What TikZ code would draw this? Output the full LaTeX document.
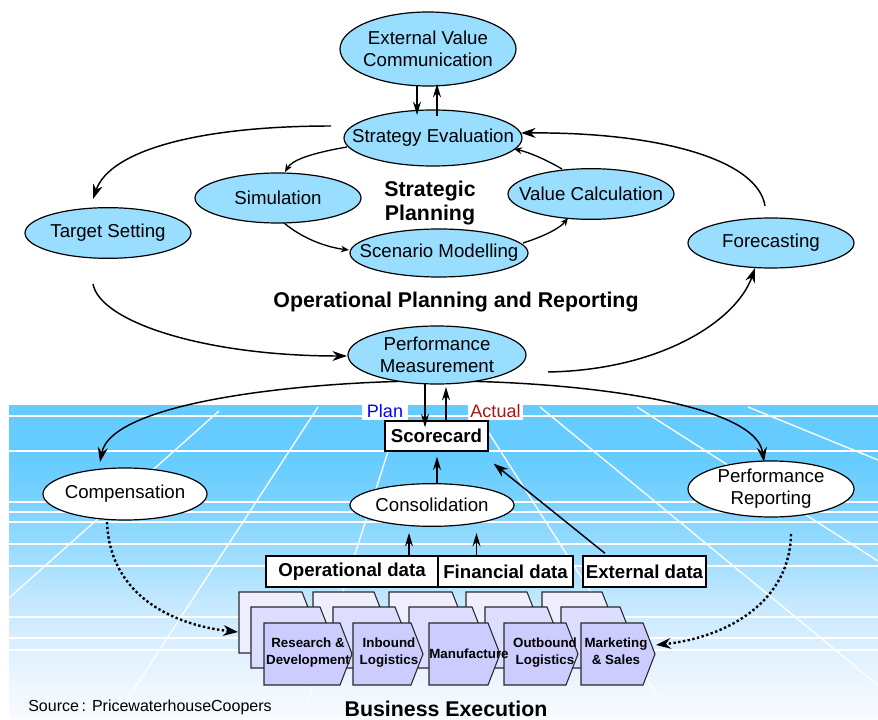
\documentclass[tikz,border=0pt]{standalone}
\usepackage{fontspec}
\setmainfont{Liberation Sans}
\usetikzlibrary{shapes.geometric,calc,arrows.meta}

% fills and inks
\definecolor{ovalblue}{RGB}{153,221,255}
\definecolor{planblue}{RGB}{0,0,255}
\definecolor{actualred}{RGB}{170,20,20}
\definecolor{chevback}{RGB}{238,238,255}
\definecolor{chevmid}{RGB}{221,221,255}
\definecolor{chevfront}{RGB}{204,204,255}
\definecolor{chevline}{RGB}{40,40,40}
% ground gradient, from bottom (g0) to top (g6)
\definecolor{g0}{RGB}{248,251,255}
\definecolor{g1}{RGB}{240,247,255}
\definecolor{g2}{RGB}{222,240,255}
\definecolor{g3}{RGB}{195,232,255}
\definecolor{g4}{RGB}{162,222,255}
\definecolor{g5}{RGB}{122,210,255}
\definecolor{g6}{RGB}{102,204,255}

\pgfdeclarelayer{ground}
\pgfdeclarelayer{links}
\pgfsetlayers{ground,links,main}

% one value-chain chevron: fill, left x, corner x, top y, bottom y
\newcommand{\valuechevron}[5]{%
  \filldraw[fill=#1, draw=chevline, line width=0.8pt, line join=miter]
    (#2,#4) -- (#3,#4) -- ({#3+12},{(#4+#5)/2}) -- (#3,#5) -- (#2,#5) -- cycle;}

\begin{document}
\begin{tikzpicture}[x=0.75pt, y=-0.75pt,
  font=\fontsize{14}{16.5}\selectfont,
  oval/.style={ellipse, draw=black, line width=0.9pt, fill=ovalblue, inner sep=0pt},
  whiteoval/.style={ellipse, draw=black, line width=0.9pt, fill=white, inner sep=0pt},
  lbl/.style={align=center, inner sep=0pt},
  databox/.style={draw=black, line width=1pt, fill=white, inner sep=0pt,
                  minimum height=23.25pt, font=\bfseries\fontsize{14}{16}\selectfont},
  tag/.style={fill=white, inner sep=0pt, minimum height=12.75pt, font=\fontsize{13.5}{15}\selectfont},
  heading/.style={anchor=base, inner sep=0pt, font=\bfseries\fontsize{16}{18}\selectfont},
  chevtext/.style={align=center, inner sep=0pt, font=\bfseries\fontsize{10}{12.8}\selectfont},
  flow/.style={line width=1.1pt, -{Stealth[length=11pt,width=7.5pt]}},
  smallflow/.style={line width=1pt, -{Stealth[length=6pt,width=5pt]}},
  vert/.style={line width=1pt, -{Stealth[length=10pt,width=6pt]}},
  dotflow/.style={line width=1.8pt, dash pattern=on 1.8pt off 1.8pt, -{Stealth[length=11pt,width=8pt]}},
  gridline/.style={white, line width=1pt}]

\useasboundingbox (0,0) rectangle (878,720);

% ---------- ground plane with perspective grid ----------
\begin{pgfonlayer}{ground}
  \fill[g6] (9,405) rectangle (878,460.5);
  \shade[top color=g6, bottom color=g5] (9,460) rectangle (878,500.5);
  \shade[top color=g5, bottom color=g4] (9,500) rectangle (878,560.5);
  \shade[top color=g4, bottom color=g3] (9,560) rectangle (878,600.5);
  \shade[top color=g3, bottom color=g2] (9,600) rectangle (878,650.5);
  \shade[top color=g2, bottom color=g1] (9,650) rectangle (878,690.5);
  \shade[top color=g1, bottom color=g0] (9,690) rectangle (878,718);
  \begin{scope}
    \clip (9,405) rectangle (878,718);
    \foreach \y in {416,451,502,512,522,544,566,617,638,650}
      \draw[gridline] (9,\y) -- (878,\y);
    \draw[gridline] (219,411) -- (9,598);
    \draw[gridline] (318,407) -- (132,692);
    \draw[gridline] (403,405) -- (308,700);
    \draw[gridline] (471,405) -- (660,700);
    \draw[gridline] (540,407) -- (878,685);
    \draw[gridline] (637,407) -- (878,561);
    \draw[gridline] (748,407) -- (878,460);
  \end{scope}
\end{pgfonlayer}

% ---------- strategic planning ----------
\node[oval, minimum width=132pt, minimum height=55.5pt] (ext) at (428,49) {};
\node[lbl] (ext-t) at (ext) {External Value\\Communication};
\node[oval, minimum width=133.5pt, minimum height=42pt] (strat) at (433,138) {};
\node[lbl] (strat-t) at (strat) {Strategy Evaluation};
\node[oval, minimum width=124.5pt, minimum height=37.5pt] (sim) at (278,198) {};
\node[lbl] (sim-t) at (sim) {Simulation};
\node[oval, minimum width=124.5pt, minimum height=38pt] (val) at (591,194) {};
\node[lbl] (val-t) at (val) {Value Calculation};
\node[oval, minimum width=133.5pt, minimum height=36pt] (scen) at (439,253) {};
\node[lbl] (scen-t) at (scen) {Scenario Modelling};
\node[heading, align=center] (sp) at (430,220.5) {Strategic\\Planning};

% ---------- operational planning and reporting ----------
\node[oval, minimum width=124.5pt, minimum height=38pt] (target) at (108,233) {};
\node[lbl] (target-t) at (target) {Target Setting};
\node[oval, minimum width=124.5pt, minimum height=37.5pt] (forecast) at (771,243) {};
\node[lbl] (forecast-t) at (forecast) {Forecasting};
\node[heading] (opr) at (456,307) {Operational Planning and Reporting};
\node[oval, minimum width=133.5pt, minimum height=43.5pt] (perfmeas) at (437,355) {};
\node[lbl] (perfmeas-t) at (perfmeas) {Performance\\Measurement};

% ---------- scorecard level ----------
\node[tag, minimum width=34.5pt, text=planblue] (plan) at (385,411.5) {Plan};
\node[tag, minimum width=41.25pt, text=actualred] (actual) at (495.5,411.5) {Actual};
\node[databox, minimum width=77.25pt, minimum height=22.5pt] (score) at (436.5,436) {Scorecard};
\node[whiteoval, minimum width=123pt, minimum height=39pt] (comp) at (125,494) {};
\node[lbl] (comp-t) at (comp) {Compensation};
\node[whiteoval, minimum width=123pt, minimum height=32pt] (consol) at (432,505) {};
\node[lbl] (consol-t) at (consol) {Consolidation};
\node[whiteoval, minimum width=124.5pt, minimum height=42pt] (rep) at (771,489) {};
\node[lbl] (rep-t) at (rep) {Performance\\Reporting};

% ---------- data sources ----------
\node[databox, minimum width=129pt] (opdata) at (352,571.5) {Operational data};
\node[databox, minimum width=101.25pt] (findata) at (505.5,571.5) {Financial data};
\node[databox, minimum width=92.25pt] (extdata) at (644.5,571.5) {External data};

% ---------- business execution: value chain ----------
\foreach \l/\c in {239/302,313/374,389/452,466/527,542/602}
  {\valuechevron{chevback}{\l}{\c}{592}{653}}
\foreach \l/\c in {251/320,333/395,409/472,485/547,561/620}
  {\valuechevron{chevmid}{\l}{\c}{607}{668}}
\foreach \l/\c in {264/340,353/411,429/488,504/566,581/643}
  {\valuechevron{chevfront}{\l}{\c}{623}{685}}
\node[chevtext] (rd) at (308,653) {Research \&\\Development};
\node[chevtext] (inb) at (389,653) {Inbound\\Logistics};
\node[chevtext] (manu) at (469,654) {Manufacture};
\node[chevtext] (outb) at (545,653) {Outbound\\Logistics};
\node[chevtext] (mkt) at (616,651) {Marketing\\\& Sales};
\coordinate (rdback) at (238,632);
\coordinate (mktip) at (656,645);

\node[heading] (be) at (446,716) {Business Execution};
\node[anchor=base, inner sep=0pt, font=\fontsize{12}{14}\selectfont] (src) at (150,711)
  {Source\,: PricewaterhouseCoopers};

% ---------- curved flows ----------
\begin{pgfonlayer}{links}
  \draw[flow] ($(strat)+(-102,-12)$) .. controls (200,126) and (110,150) .. ($(target)+(-15,-34)$);
  \draw[flow] ($(forecast)+(-6,-37)$) .. controls (758,160) and (660,132) .. ($(strat)+(88,-5)$);
  \draw[flow] ($(target)+(-15,51)$) .. controls (100,322) and (205,356) .. ($(perfmeas)+(-90,1)$);
  \draw[flow] ($(perfmeas)+(111,17)$) .. controls (662,370) and (737,320) .. ($(forecast)+(-16,25)$);

  \draw[smallflow] ($(strat)+(-86,9)$) .. controls (312,153) and (292,160) .. ($(sim)+(7,-26)$);
  \draw[smallflow] ($(sim)+(6,25)$) .. controls (302,238) and (325,247) .. ($(scen)+(-90,-3)$);
  \draw[smallflow] ($(scen)+(84,-10)$) .. controls (545,236) and (560,228) .. ($(val)+(-23,24)$);
  \draw[smallflow] ($(val)+(-29,-25)$) .. controls (545,159) and (528,152) .. ($(strat)+(81,11)$);

  \draw[flow] ($(perfmeas)+(-7,26)$) .. controls (315,381) and (112,400) .. ($(comp)+(-25,-32)$);
  \draw[flow] ($(perfmeas)+(8,26)$) .. controls (560,381) and (755,400) .. ($(rep)+(-7,-27)$);

  \draw[dotflow] ($(comp)+(-18,28)$) .. controls (110,600) and (180,626) .. (rdback);
  \draw[dotflow] ($(rep)+(20,45)$) .. controls (790,600) and (730,637) .. (mktip);
\end{pgfonlayer}

% ---------- straight flows ----------
\draw[vert] ($(ext)+(-11,37)$) -- ($(strat)+(-16,-23)$);
\draw[vert] ($(strat)+(4,-22)$) -- ($(ext)+(9,35)$);
\draw[vert] ($(perfmeas)+(-12,29)$) -- ($(score.north)+(-11.5,7)$);
\draw[vert] ($(score.north)+(9.5,0)$) -- ($(perfmeas)+(9,32)$);
\draw[vert] ($(consol)+(5,-21)$) -- ($(score.south)+(0.5,5)$);
\draw[vert] ($(opdata.north)+(57,0)$) -- ($(consol)+(-23,28)$);
\draw[vert] ($(findata.north)+(-29,0)$) -- ($(consol)+(44.5,28)$);
\draw[flow] ($(extdata.north)+(-39.5,-2)$) -- ($(score.south east)+(5,12)$);

\end{tikzpicture}
\end{document}
